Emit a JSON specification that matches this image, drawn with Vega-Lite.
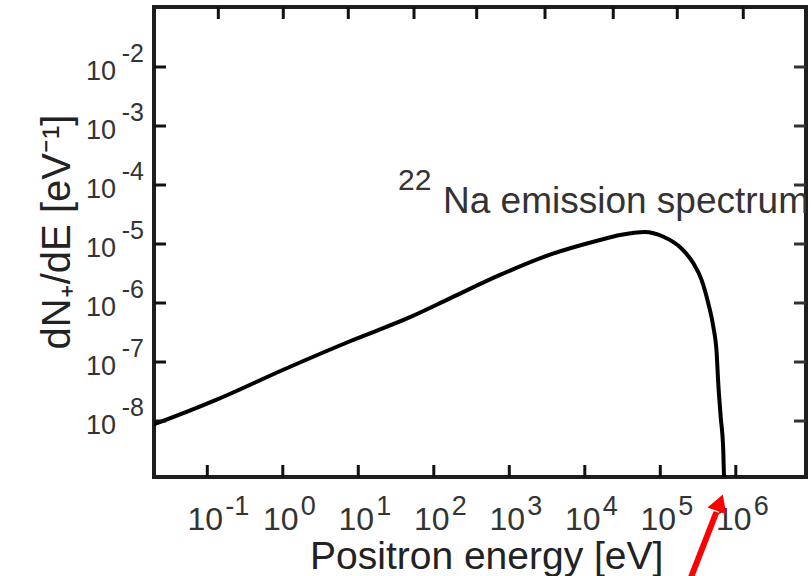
{
  "$schema": "https://vega.github.io/schema/vega-lite/v6.json",
  "autosize": "none",
  "width": 652,
  "height": 470,
  "padding": {"left": 154, "top": 7, "right": 5, "bottom": 99},
  "background": "white",
  "config": {
    "view": {"stroke": "#1e1e1e", "strokeWidth": 4},
    "font": "Liberation Sans"
  },
  "datasets": {
    "spectrum": [
      {"E": 0.01742, "dNdE": 8.39e-9},
      {"E": 0.0245, "dNdE": 9.8e-9},
      {"E": 0.1331, "dNdE": 2.3e-8},
      {"E": 1.015, "dNdE": 7.4e-8},
      {"E": 7.76, "dNdE": 2.25e-7},
      {"E": 48.4, "dNdE": 5.75e-7},
      {"E": 164, "dNdE": 1.2e-6},
      {"E": 753, "dNdE": 2.99e-6},
      {"E": 3460, "dNdE": 6.6e-6},
      {"E": 15900, "dNdE": 1.17e-5},
      {"E": 29300, "dNdE": 1.42e-5},
      {"E": 62700, "dNdE": 1.6e-5},
      {"E": 110000, "dNdE": 1.33e-5},
      {"E": 182000, "dNdE": 8.89e-6},
      {"E": 274000, "dNdE": 4.71e-6},
      {"E": 353000, "dNdE": 2.45e-6},
      {"E": 432000, "dNdE": 9.89e-7},
      {"E": 504000, "dNdE": 3.96e-7},
      {"E": 558000, "dNdE": 1.42e-7},
      {"E": 586000, "dNdE": 4.36e-8},
      {"E": 631000, "dNdE": 1.18e-8},
      {"E": 682000, "dNdE": 3.22e-9},
      {"E": 698000, "dNdE": 1.14e-9},
      {"E": 705000, "dNdE": 6.8e-10}
    ],
    "xexp": [
      {"E": 0.1, "exp": "-1"},
      {"E": 1, "exp": "0"},
      {"E": 10, "exp": "1"},
      {"E": 100, "exp": "2"},
      {"E": 1000, "exp": "3"},
      {"E": 10000, "exp": "4"},
      {"E": 100000, "exp": "5"},
      {"E": 1000000, "exp": "6"}
    ],
    "xtick": [
      {"T": 0.1}, {"T": 1}, {"T": 10}, {"T": 100}, {"T": 1000}, {"T": 10000}, {"T": 100000}, {"T": 1000000}
    ],
    "xtop": [
      {"T": 0.14}, {"T": 1.015}, {"T": 7.37}, {"T": 54.7}, {"T": 369.8},
      {"T": 2972}, {"T": 23820}, {"T": 167900}, {"T": 1256000}
    ],
    "ytick": [
      {"T": 1e-8}, {"T": 1e-7}, {"T": 1e-6}, {"T": 1e-5}, {"T": 1e-4}, {"T": 1e-3}, {"T": 1e-2}
    ],
    "yexp": [
      {"v": 1e-8, "exp": "-8"},
      {"v": 1e-7, "exp": "-7"},
      {"v": 1e-6, "exp": "-6"},
      {"v": 1e-5, "exp": "-5"},
      {"v": 1e-4, "exp": "-4"},
      {"v": 1e-3, "exp": "-3"},
      {"v": 1e-2, "exp": "-2"}
    ]
  },
  "layer": [
    {
      "data": {"name": "spectrum"},
      "mark": {"type": "line", "color": "#000000", "strokeWidth": 4, "interpolate": "monotone", "clip": true},
      "encoding": {
        "x": {"field": "E", "type": "quantitative", "scale": {"type": "log", "domain": [0.01968, 8510000], "nice": false}, "axis": null},
        "y": {"field": "dNdE", "type": "quantitative", "scale": {"type": "log", "domain": [1.125e-9, 0.104], "nice": false}, "axis": null}
      }
    },
    {
      "data": {"name": "xexp"},
      "mark": {"type": "text", "align": "center", "baseline": "alphabetic", "dx": -2, "dy": 53, "fontSize": 32, "color": "#333333"},
      "encoding": {
        "x": {"field": "E", "type": "quantitative", "scale": {"type": "log", "domain": [0.01968, 8510000], "nice": false}, "axis": null},
        "y": {"datum": 1.125e-9, "type": "quantitative", "scale": {"type": "log", "domain": [1.125e-9, 0.104], "nice": false}, "axis": null},
        "text": {"value": "10"}
      }
    },
    {
      "data": {"name": "xexp"},
      "mark": {"type": "text", "align": "left", "baseline": "alphabetic", "dx": 18, "dy": 38, "fontSize": 27, "color": "#333333"},
      "encoding": {
        "x": {"field": "E", "type": "quantitative", "scale": {"type": "log", "domain": [0.01968, 8510000], "nice": false}, "axis": null},
        "y": {"datum": 1.125e-9, "type": "quantitative", "scale": {"type": "log", "domain": [1.125e-9, 0.104], "nice": false}, "axis": null},
        "text": {"field": "exp", "type": "nominal"}
      }
    },
    {
      "data": {"name": "yexp"},
      "mark": {"type": "text", "align": "right", "baseline": "alphabetic", "dx": -38, "dy": 13, "fontSize": 27, "color": "#333333"},
      "encoding": {
        "x": {"datum": 0.01968, "type": "quantitative", "scale": {"type": "log", "domain": [0.01968, 8510000], "nice": false}, "axis": null},
        "y": {"field": "v", "type": "quantitative", "scale": {"type": "log", "domain": [1.125e-9, 0.104], "nice": false}, "axis": null},
        "text": {"value": "10"}
      }
    },
    {
      "data": {"name": "yexp"},
      "mark": {"type": "text", "align": "right", "baseline": "alphabetic", "dx": -10, "dy": -5, "fontSize": 25, "color": "#333333"},
      "encoding": {
        "x": {"datum": 0.01968, "type": "quantitative", "scale": {"type": "log", "domain": [0.01968, 8510000], "nice": false}, "axis": null},
        "y": {"field": "v", "type": "quantitative", "scale": {"type": "log", "domain": [1.125e-9, 0.104], "nice": false}, "axis": null},
        "text": {"field": "exp", "type": "nominal"}
      }
    },
    {
      "data": {"values": [{"label": "Positron energy [eV]"}]},
      "mark": {"type": "text", "align": "center", "baseline": "alphabetic", "dy": 92, "fontSize": 39, "color": "#222222"},
      "encoding": {
        "x": {"datum": 502, "type": "quantitative", "scale": {"type": "log", "domain": [0.01968, 8510000], "nice": false}, "axis": null},
        "y": {"datum": 1.125e-9, "type": "quantitative", "scale": {"type": "log", "domain": [1.125e-9, 0.104], "nice": false}, "axis": null},
        "text": {"field": "label", "type": "nominal"}
      }
    },
    {
      "data": {"values": [{"label": "dN₊/dE [eV⁻¹]"}]},
      "mark": {"type": "text", "align": "center", "baseline": "alphabetic", "angle": 270, "dy": -84, "fontSize": 40, "color": "#222222"},
      "encoding": {
        "x": {"datum": 0.01968, "type": "quantitative", "scale": {"type": "log", "domain": [0.01968, 8510000], "nice": false}, "axis": null},
        "y": {"datum": 1.596e-5, "type": "quantitative", "scale": {"type": "log", "domain": [1.125e-9, 0.104], "nice": false}, "axis": null},
        "text": {"field": "label", "type": "nominal"}
      }
    },
    {
      "data": {"values": [{"label": "22"}]},
      "mark": {"type": "text", "align": "left", "baseline": "alphabetic", "fontSize": 30, "color": "#333333"},
      "encoding": {
        "x": {"datum": 33.57, "type": "quantitative", "scale": {"type": "log", "domain": [0.01968, 8510000], "nice": false}, "axis": null},
        "y": {"datum": 8.23e-5, "type": "quantitative", "scale": {"type": "log", "domain": [1.125e-9, 0.104], "nice": false}, "axis": null},
        "text": {"field": "label", "type": "nominal"}
      }
    },
    {
      "data": {"values": [{"label": "Na emission spectrum"}]},
      "mark": {"type": "text", "align": "left", "baseline": "alphabetic", "fontSize": 37, "color": "#333333", "clip": true},
      "encoding": {
        "x": {"datum": 132.4, "type": "quantitative", "scale": {"type": "log", "domain": [0.01968, 8510000], "nice": false}, "axis": null},
        "y": {"datum": 3.353e-5, "type": "quantitative", "scale": {"type": "log", "domain": [1.125e-9, 0.104], "nice": false}, "axis": null},
        "text": {"field": "label", "type": "nominal"}
      }
    },
    {
      "data": {"values": [{"part": "arrow shaft"}]},
      "mark": {"type": "rule", "color": "#ff0000", "strokeWidth": 6},
      "encoding": {
        "x": {"datum": 247000, "type": "quantitative", "scale": {"type": "log", "domain": [0.01968, 8510000], "nice": false}, "axis": null},
        "x2": {"datum": 554600},
        "y": {"datum": 2.02e-11, "type": "quantitative", "scale": {"type": "log", "domain": [1.125e-9, 0.104], "nice": false}, "axis": null},
        "y2": {"datum": 2.87e-10}
      }
    },
    {
      "data": {"values": [{"part": "arrow head"}]},
      "mark": {"type": "point", "shape": "triangle-up", "filled": true, "color": "#ff0000", "opacity": 1, "size": 400, "angle": 20},
      "encoding": {
        "x": {"datum": 615200, "type": "quantitative", "scale": {"type": "log", "domain": [0.01968, 8510000], "nice": false}, "axis": null},
        "y": {"datum": 4.12e-10, "type": "quantitative", "scale": {"type": "log", "domain": [1.125e-9, 0.104], "nice": false}, "axis": null}
      }
    },
    {
      "data": {"name": "xtick"},
      "mark": {"type": "rule", "color": "#111111", "strokeWidth": 3},
      "encoding": {
        "x": {"field": "T", "type": "quantitative", "scale": {"type": "log", "domain": [0.01968, 8510000], "nice": false}, "axis": null},
        "y": {"datum": 1.125e-9, "type": "quantitative", "scale": {"type": "log", "domain": [1.125e-9, 0.104], "nice": false}, "axis": null},
        "y2": {"datum": 1.797e-9}
      }
    },
    {
      "data": {"name": "xtop"},
      "mark": {"type": "rule", "color": "#111111", "strokeWidth": 3},
      "encoding": {
        "x": {"field": "T", "type": "quantitative", "scale": {"type": "log", "domain": [0.01968, 8510000], "nice": false}, "axis": null},
        "y": {"datum": 0.104, "type": "quantitative", "scale": {"type": "log", "domain": [1.125e-9, 0.104], "nice": false}, "axis": null},
        "y2": {"datum": 0.0651}
      }
    },
    {
      "data": {"name": "ytick"},
      "mark": {"type": "rule", "color": "#111111", "strokeWidth": 3},
      "encoding": {
        "x": {"datum": 0.01968, "type": "quantitative", "scale": {"type": "log", "domain": [0.01968, 8510000], "nice": false}, "axis": null},
        "x2": {"datum": 0.02838},
        "y": {"field": "T", "type": "quantitative", "scale": {"type": "log", "domain": [1.125e-9, 0.104], "nice": false}, "axis": null}
      }
    },
    {
      "data": {"name": "ytick"},
      "mark": {"type": "rule", "color": "#333333", "strokeWidth": 3},
      "encoding": {
        "x": {"datum": 8510000, "type": "quantitative", "scale": {"type": "log", "domain": [0.01968, 8510000], "nice": false}, "axis": null},
        "x2": {"datum": 5900000},
        "y": {"field": "T", "type": "quantitative", "scale": {"type": "log", "domain": [1.125e-9, 0.104], "nice": false}, "axis": null}
      }
    }
  ]
}
